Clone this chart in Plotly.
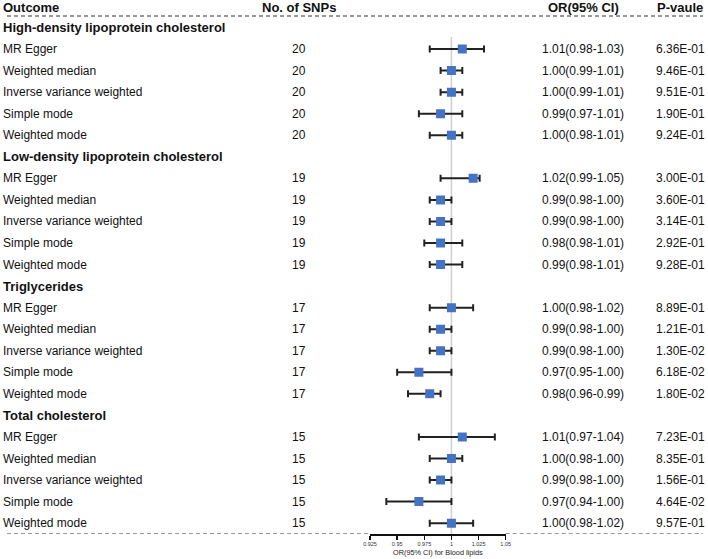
import plotly.graph_objects as go

# ---------------- data ----------------
outcomes = [
    "High-density lipoprotein cholesterol",
    "Low-density lipoprotein cholesterol",
    "Triglycerides",
    "Total cholesterol",
]
methods = ["MR Egger", "Weighted median", "Inverse variance weighted",
           "Simple mode", "Weighted mode"]

n_snps = [20, 19, 17, 15]

or_est = [
    [1.01, 1.00, 1.00, 0.99, 1.00],
    [1.02, 0.99, 0.99, 0.99, 0.99],
    [1.00, 0.99, 0.99, 0.97, 0.98],
    [1.01, 1.00, 0.99, 0.97, 1.00],
]
ci_low = [
    [0.98, 0.99, 0.99, 0.97, 0.98],
    [0.99, 0.98, 0.98, 0.975, 0.98],
    [0.98, 0.98, 0.98, 0.95, 0.96],
    [0.97, 0.98, 0.98, 0.94, 0.98],
]
ci_high = [
    [1.03, 1.01, 1.01, 1.01, 1.01],
    [1.026, 1.00, 1.00, 1.01, 1.01],
    [1.02, 1.00, 1.00, 1.00, 0.99],
    [1.04, 1.01, 1.00, 1.00, 1.02],
]
or_text = [
    ["1.01(0.98-1.03)", "1.00(0.99-1.01)", "1.00(0.99-1.01)", "0.99(0.97-1.01)", "1.00(0.98-1.01)"],
    ["1.02(0.99-1.05)", "0.99(0.98-1.00)", "0.99(0.98-1.00)", "0.98(0.98-1.01)", "0.99(0.98-1.01)"],
    ["1.00(0.98-1.02)", "0.99(0.98-1.00)", "0.99(0.98-1.00)", "0.97(0.95-1.00)", "0.98(0.96-0.99)"],
    ["1.01(0.97-1.04)", "1.00(0.98-1.00)", "0.99(0.98-1.00)", "0.97(0.94-1.00)", "1.00(0.98-1.02)"],
]
p_text = [
    ["6.36E-01", "9.46E-01", "9.51E-01", "1.90E-01", "9.24E-01"],
    ["3.00E-01", "3.60E-01", "3.14E-01", "2.92E-01", "9.28E-01"],
    ["8.89E-01", "1.21E-01", "1.30E-02", "6.18E-02", "1.80E-02"],
    ["7.23E-01", "8.35E-01", "1.56E-01", "4.64E-02", "9.57E-01"],
]
headers = ["Outcome", "No. of SNPs", "OR(95% CI)", "P-vaule"]
x_ticks = [0.925, 0.95, 0.975, 1, 1.025, 1.05]
x_title = "OR(95% CI) for Blood lipids"

# ---------------- layout constants ----------------
W, H = 708, 559
FONT = "Liberation Sans, Arial, sans-serif"
x_dom = [369.3 / W, 507.3 / W]
row0_px, row_h = 27.5, 21.55
axis_px = 534.0
k_axis = (axis_px - row0_px) / row_h
k_top = -row0_px / row_h
col_left = -5 / W
col_snp = 297 / W
col_or = 586 / W
col_p = 685 / W


def k_of(px):
    return (px - row0_px) / row_h


ys, xs, lo_e, hi_e = [], [], [], []
annotations = []


def add_text(text, xpos, y, bold=False, align="center", size=12):
    annotations.append(dict(
        text=f"<b>{text}</b>" if bold else text,
        x=xpos, y=y, xref="paper", yref="y",
        xanchor="left" if align == "left" else "center",
        yanchor="middle", showarrow=False, borderpad=0,
        font=dict(family=FONT, size=size, color="#111"),
    ))


# headers
k_head = k_of(7)
add_text(headers[0], col_left, k_head, bold=True, align="left", size=13)
add_text(headers[1], col_snp, k_head, bold=True, size=13)
add_text(headers[2], col_or, k_head, bold=True, size=13)
add_text(headers[3], col_p, k_head, bold=True, size=13)

k = 0
for gi, outcome in enumerate(outcomes):
    add_text(outcome, col_left, k, bold=True, align="left", size=13)
    k += 1
    for mi, m in enumerate(methods):
        add_text(m, col_left, k, align="left")
        add_text(str(n_snps[gi]), col_snp, k)
        add_text(or_text[gi][mi], col_or, k)
        add_text(p_text[gi][mi], col_p, k)
        ys.append(k)
        xs.append(or_est[gi][mi])
        lo_e.append(or_est[gi][mi] - ci_low[gi][mi])
        hi_e.append(ci_high[gi][mi] - or_est[gi][mi])
        k += 1

# axis title
annotations.append(dict(
    text=x_title, x=(x_dom[0] + x_dom[1]) / 2, y=(H - 552) / H,
    xref="paper", yref="paper", xanchor="center", yanchor="middle",
    showarrow=False, borderpad=0, font=dict(family=FONT, size=7.3, color="#222"),
))

fig = go.Figure()
fig.add_trace(go.Scatter(
    x=xs, y=ys, mode="markers",
    marker=dict(symbol="square", size=9, color="#4472C4", line=dict(width=0)),
    error_x=dict(type="data", symmetric=False, array=hi_e, arrayminus=lo_e,
                 color="#222", thickness=2, width=3.5),
    showlegend=False, hoverinfo="skip",
))

shapes = [
    # reference line at OR = 1
    dict(type="line", xref="x", yref="y", x0=1, x1=1, y0=k_of(37), y1=k_axis,
         line=dict(color="#cfcfcf", width=1.5), layer="below"),
    # top dashed line
    dict(type="line", xref="paper", yref="y", x0=0, x1=1,
         y0=k_of(16), y1=k_of(16), line=dict(color="#333", width=1, dash="4px,3px")),
    # bottom dashed lines
    dict(type="line", xref="paper", yref="y", x0=0, x1=x_dom[0],
         y0=k_axis, y1=k_axis, line=dict(color="#333", width=1, dash="4px,3px")),
    dict(type="line", xref="paper", yref="y", x0=x_dom[1], x1=1,
         y0=k_axis, y1=k_axis, line=dict(color="#333", width=1, dash="4px,3px")),
]

fig.update_layout(
    width=W, height=H,
    margin=dict(l=0, r=0, t=0, b=0, pad=0),
    paper_bgcolor="white", plot_bgcolor="white",
    annotations=annotations, shapes=shapes,
    xaxis=dict(
        domain=x_dom, range=[0.925, 1.05], autorange=False,
        tickvals=x_ticks, ticktext=[f"{v:g}" for v in x_ticks],
        ticks="outside", ticklen=4, tickwidth=1.5, tickcolor="#111",
        showline=True, linecolor="#111", linewidth=1.5,
        showgrid=False, zeroline=False,
        tickfont=dict(family=FONT, size=5.5, color="#333"),
        fixedrange=True,
    ),
    yaxis=dict(
        domain=[(H - axis_px) / H, 1], range=[k_axis, k_top], autorange=False,
        visible=False, showgrid=False, zeroline=False, fixedrange=True,
    ),
)

fig.write_html(
    "out.html",
    config={"displayModeBar": False, "staticPlot": True},
    post_script="document.body.style.margin='0';document.body.style.overflow='hidden';",
)
